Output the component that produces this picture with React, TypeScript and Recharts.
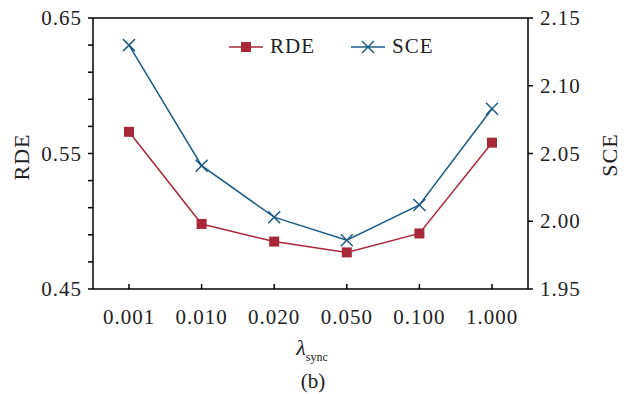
import React from 'react';
import { LineChart, Line, XAxis, YAxis, ReferenceLine } from 'recharts';

const lambdas = ['0.001', '0.010', '0.020', '0.050', '0.100', '1.000'];
const rdeValues = [0.566, 0.498, 0.485, 0.477, 0.491, 0.558];
const sceValues = [2.130, 2.041, 2.003, 1.986, 2.012, 2.083];
const rdeTicks = [0.45, 0.47, 0.49, 0.51, 0.53, 0.55, 0.57, 0.59, 0.61, 0.63, 0.65];
const rdeLabels = ['0.45', '0.55', '0.65'];
const sceTicks = [1.95, 2.0, 2.05, 2.1, 2.15];

const RED = '#a8283a';
const BLUE = '#1d5a84';
const FONT = '"Liberation Serif", "DejaVu Serif", serif';
const AXIS_Y = 289;

const data = lambdas.map((l, i) => ({ lambda: l, RDE: rdeValues[i], SCE: sceValues[i] }));

const SquareDot = (props: any) => {
  const { cx, cy } = props;
  if (cx == null || cy == null) return null;
  return <rect x={cx - 5} y={cy - 5} width={10} height={10} fill={RED} />;
};

const CrossDot = (props: any) => {
  const { cx, cy } = props;
  if (cx == null || cy == null) return null;
  return (
    <g stroke={BLUE} strokeWidth={1.5}>
      <line x1={cx - 6} y1={cy - 6} x2={cx + 6} y2={cy + 6} />
      <line x1={cx - 6} y1={cy + 6} x2={cx + 6} y2={cy - 6} />
    </g>
  );
};

const XTick = (props: any) => {
  const { x, payload } = props;
  return (
    <g>
      <line x1={x} x2={x} y1={AXIS_Y} y2={AXIS_Y - 5} stroke="#000" strokeWidth={1.5} />
      <text x={x} y={AXIS_Y + 35} textAnchor="middle" fontSize={21} letterSpacing={1} fontFamily={FONT} fill="#222">
        {payload.value}
      </text>
    </g>
  );
};

const LeftTick = (props: any) => {
  const { x, y, payload } = props;
  const lbl = rdeLabels.find((s) => Math.abs(parseFloat(s) - payload.value) < 1e-6);
  if (!lbl) return null;
  return (
    <text x={x} y={y + 7} textAnchor="end" fontSize={21} letterSpacing={1} fontFamily={FONT} fill="#222">
      {lbl}
    </text>
  );
};

const RightTick = (props: any) => {
  const { x, y, payload } = props;
  return (
    <text x={x} y={y + 7} textAnchor="start" fontSize={21} letterSpacing={1} fontFamily={FONT} fill="#222">
      {payload.value.toFixed(2)}
    </text>
  );
};

const LegendBox = () => (
  <div style={{ display: 'flex', alignItems: 'center', fontFamily: FONT, fontSize: 21, letterSpacing: 1, color: '#222' }}>
    <svg width={38} height={14}>
      <line x1={2} x2={36} y1={7} y2={7} stroke={RED} strokeWidth={1.5} />
      <rect x={14} y={2} width={10} height={10} fill={RED} />
    </svg>
    <span style={{ marginLeft: 5, marginRight: 34 }}>RDE</span>
    <svg width={38} height={14}>
      <line x1={2} x2={36} y1={7} y2={7} stroke={BLUE} strokeWidth={1.5} />
      <line x1={13} y1={1} x2={25} y2={13} stroke={BLUE} strokeWidth={1.5} />
      <line x1={13} y1={13} x2={25} y2={1} stroke={BLUE} strokeWidth={1.5} />
    </svg>
    <span style={{ marginLeft: 5 }}>SCE</span>
  </div>
);

const App: React.FC = () => {
  return (
    <div style={{ position: 'absolute', left: 0, top: 0, width: 629, height: 394, background: '#fff' }}>
      <LineChart width={629} height={394} data={data} margin={{ top: 18, right: 0, left: 0, bottom: 0 }}>
        <XAxis
          dataKey="lambda"
          height={105}
          padding={{ left: 36, right: 36 }}
          axisLine={{ stroke: '#000', strokeWidth: 1.5 }}
          tickLine={false}
          tick={<XTick />}
          interval={0}
        />
        <YAxis
          yAxisId="left"
          orientation="left"
          width={93}
          domain={[0.45, 0.65]}
          ticks={rdeTicks}
          interval={0}
          tickSize={5}
          tickMargin={6}
          axisLine={{ stroke: '#000', strokeWidth: 1.5 }}
          tickLine={{ stroke: '#000', strokeWidth: 1.5 }}
          tick={<LeftTick />}
        />
        <YAxis
          yAxisId="right"
          orientation="right"
          width={101}
          domain={[1.95, 2.15]}
          ticks={sceTicks}
          interval={0}
          tickSize={5}
          tickMargin={7}
          axisLine={{ stroke: '#000', strokeWidth: 1.5 }}
          tickLine={{ stroke: '#000', strokeWidth: 1.5 }}
          tick={<RightTick />}
        />
        <ReferenceLine yAxisId="left" y={0.65} stroke="#000" strokeWidth={1.5} />
        <Line
          yAxisId="left"
          dataKey="RDE"
          stroke={RED}
          strokeWidth={1.5}
          dot={<SquareDot />}
          activeDot={false}
          isAnimationActive={false}
        />
        <Line
          yAxisId="right"
          dataKey="SCE"
          stroke={BLUE}
          strokeWidth={1.5}
          dot={<CrossDot />}
          activeDot={false}
          isAnimationActive={false}
        />
      </LineChart>
      <div style={{ position: 'absolute', left: 227, top: 34 }}>
        <LegendBox />
      </div>
      <div
        style={{
          position: 'absolute', left: 22, top: 157, transform: 'translate(-50%, -50%) rotate(-90deg)',
          fontFamily: FONT, fontSize: 22, letterSpacing: 1, color: '#222', whiteSpace: 'nowrap',
        }}
      >
        RDE
      </div>
      <div
        style={{
          position: 'absolute', left: 610, top: 155, transform: 'translate(-50%, -50%) rotate(-90deg)',
          fontFamily: FONT, fontSize: 22, letterSpacing: 1, color: '#222', whiteSpace: 'nowrap',
        }}
      >
        SCE
      </div>
      <div
        style={{
          position: 'absolute', left: 312, top: 350, transform: 'translate(-50%, -50%)',
          fontFamily: FONT, fontSize: 22, color: '#222', whiteSpace: 'nowrap',
        }}
      >
        <i>λ</i>
        <sub style={{ fontSize: 12 }}>sync</sub>
      </div>
      <div
        style={{
          position: 'absolute', left: 313, top: 381, transform: 'translate(-50%, -50%)',
          fontFamily: FONT, fontSize: 21, color: '#222', whiteSpace: 'nowrap',
        }}
      >
        (b)
      </div>
    </div>
  );
};

export default App;
